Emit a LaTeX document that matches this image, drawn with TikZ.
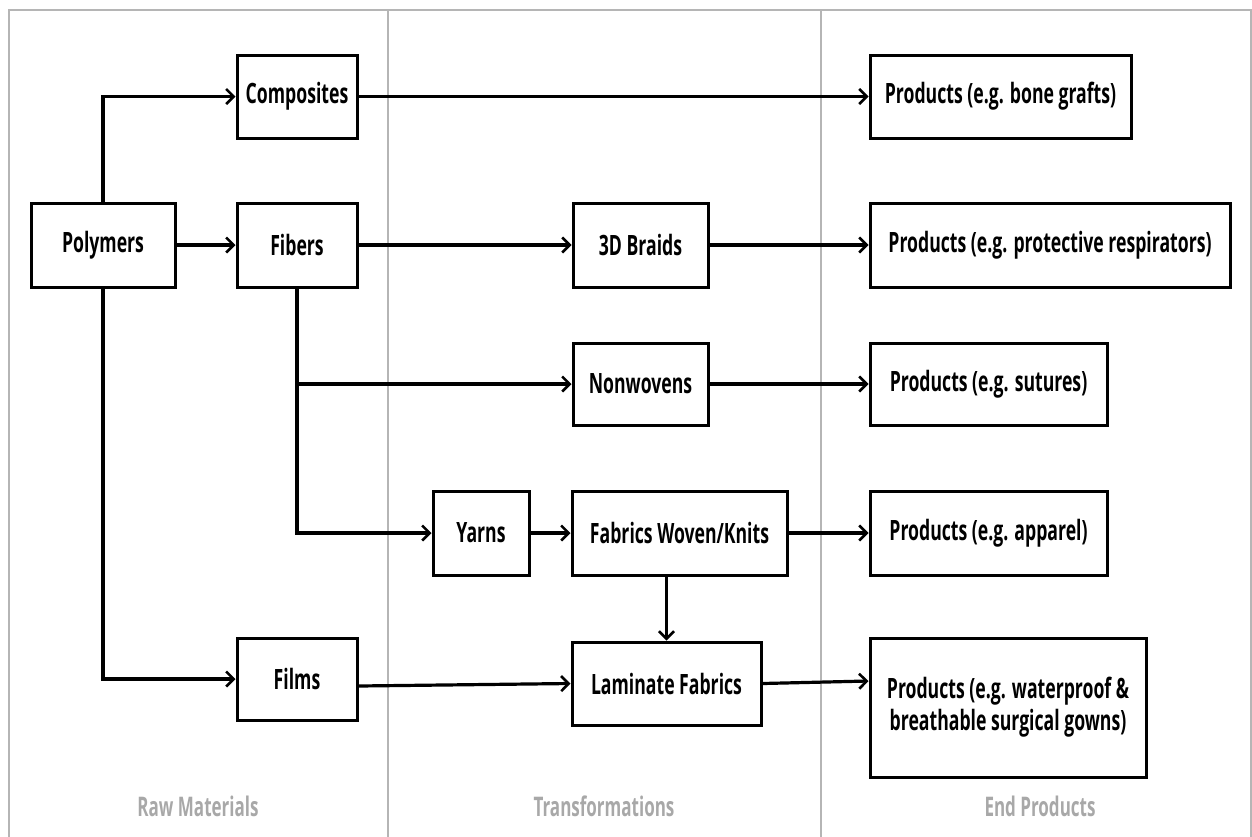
\documentclass[tikz,border=0pt]{standalone}
\usepackage{fontspec}
\setmainfont{Open Sans}[FakeStretch=0.63]
\usetikzlibrary{arrows.meta}
\definecolor{framegray}{HTML}{B5B5B5}
\definecolor{labelgray}{HTML}{A8A8A8}
\tikzset{
  box/.style={draw=black, line width=3pt, fill=white, inner sep=0pt, align=center,
    font=\fontsize{28}{32}\selectfont\bfseries},
  conn/.style={line width=3.2pt, -{Straight Barb[length=7.5pt,width=15pt,line width=2.6pt]}},
  divider/.style={draw=framegray, line width=2pt},
  collabel/.style={text=labelgray, font=\fontsize{27}{30}\selectfont\bfseries}
}
\begin{document}
\begin{tikzpicture}[x=1pt, y=-1pt]
\useasboundingbox (0,0) rectangle (1252,836);
% frame and column dividers
\draw[divider] (9,10) rectangle (1251,840);
\coordinate (d1t) at (388,10);
\coordinate (d1b) at (388,840);
\coordinate (d2t) at (821,10);
\coordinate (d2b) at (821,840);
\draw[divider] (d1t) -- (d1b);
\draw[divider] (d2t) -- (d2b);
% column labels
\node[collabel] (lraw) at (198,806) {Raw Materials};
\node[collabel] (ltra) at (604,806) {Transformations};
\node[collabel] (lend) at (1040,806) {End Products};
% nodes
\node[box, minimum width=144pt, minimum height=84pt] (poly) at (103,245) {Polymers};
\node[box, minimum width=120pt, minimum height=83pt] (comp) at (297,96.5) {Composites};
\node[box, minimum width=120pt, minimum height=84pt] (fib) at (297,245) {Fibers};
\node[box, minimum width=120pt, minimum height=82pt] (films) at (297,679) {Films};
\node[box, minimum width=135pt, minimum height=84pt] (braid) at (640.5,245) {3D Braids};
\node[box, minimum width=135pt, minimum height=82pt] (nonw) at (640.5,384) {Nonwovens};
\node[box, minimum width=96pt, minimum height=84pt] (yarn) at (481,533) {Yarns};
\node[box, minimum width=215pt, minimum height=84pt] (fab) at (679.5,533) {Fabrics Woven/Knits};
\node[box, minimum width=189pt, minimum height=83pt] (lam) at (666.5,683.5) {Laminate Fabrics};
\node[box, minimum width=261pt, minimum height=83pt] (p1) at (1000.5,96.5) {Products (e.g. bone grafts)};
\node[box, minimum width=360pt, minimum height=84pt] (p2) at (1050,245) {Products (e.g. protective respirators)};
\node[box, minimum width=237pt, minimum height=82pt] (p3) at (988.5,384) {Products (e.g. sutures)};
\node[box, minimum width=237pt, minimum height=84pt] (p4) at (988.5,533) {Products (e.g. apparel)};
\node[box, minimum width=276pt, minimum height=139pt] (p5) at (1008,707.5) {Products (e.g. waterproof \&\\breathable surgical gowns)};
% connectors
\draw[conn] (poly.north) |- (comp.west);
\draw[conn] (poly.east) -- (fib.west);
\draw[conn] (poly.south) |- (films.west);
\draw[conn] (comp.east) -- (p1.west);
\draw[conn] (fib.east) -- (braid.west);
\draw[conn] (braid.east) -- (p2.west);
\coordinate (fibjoin) at (fib.south |- nonw.west);
\draw[conn] (fib.south) |- (yarn.west);
\draw[conn] (fibjoin) -- (nonw.west);
\draw[conn] (nonw.east) -- (p3.west);
\draw[conn] (yarn.east) -- (fab.west);
\draw[conn] (fab.east) -- (p4.west);
\draw[conn] (fab.south -| lam.north) -- (lam.north);
\draw[conn] ([yshift=-7pt]films.east) -- (lam.west);
\draw[conn] (lam.east) -- ([yshift=26.5pt]p5.west);
\end{tikzpicture}
\end{document}
